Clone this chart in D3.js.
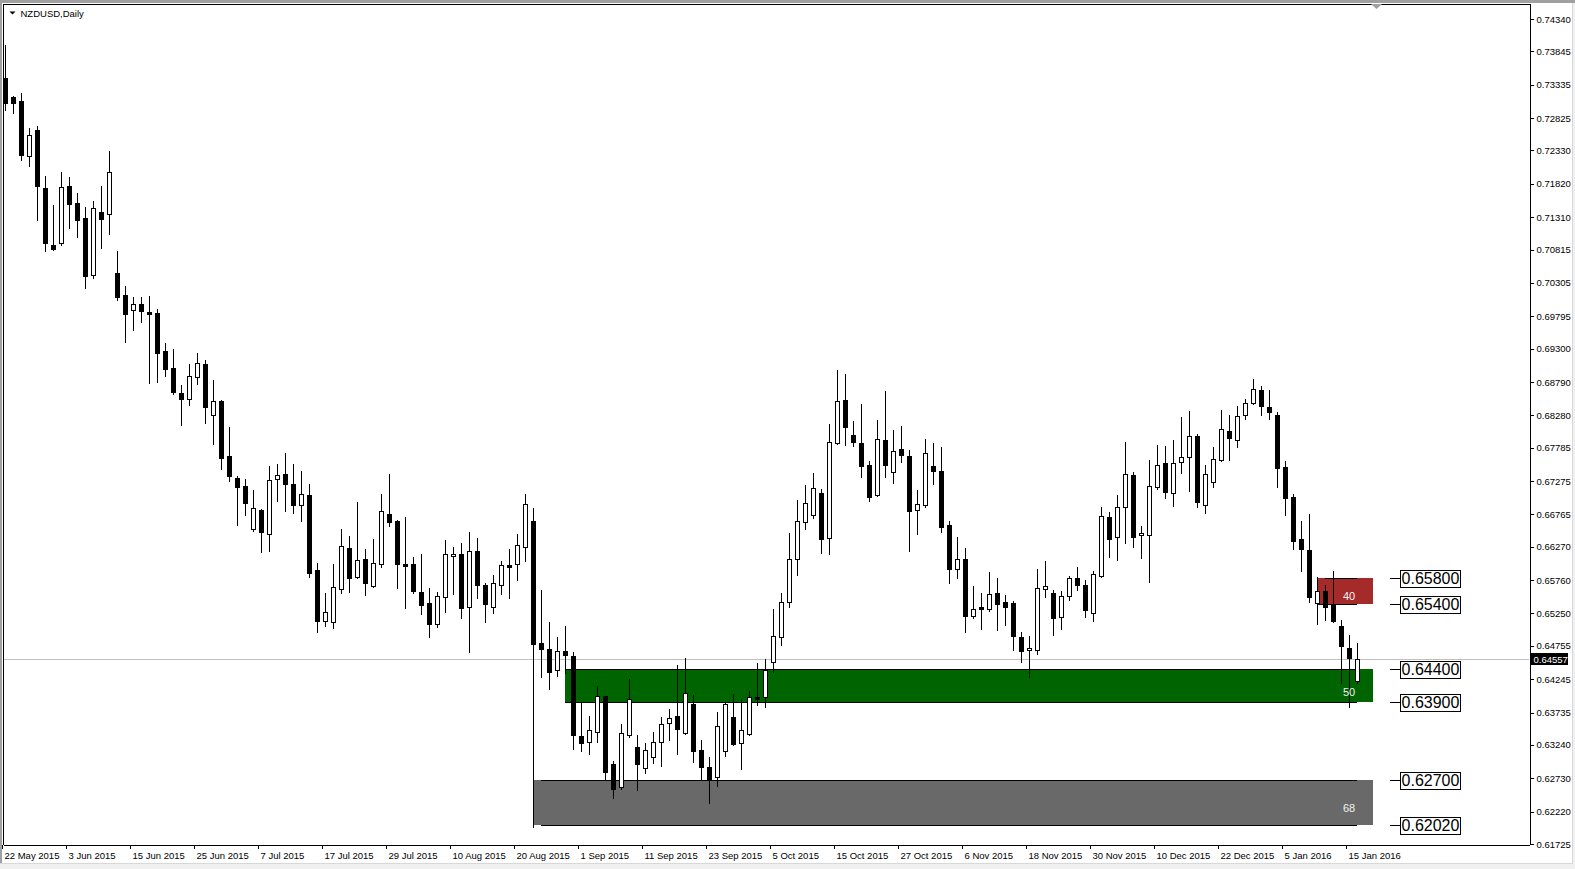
<!DOCTYPE html>
<html><head><meta charset="utf-8">
<script src="https://cdn.jsdelivr.net/npm/d3@7"></script>
<style>
body{margin:0;background:#fff;overflow:hidden}
svg{display:block}
text{font-family:"Liberation Sans",Arial,sans-serif}
</style>
</head><body><svg id="c" width="1575" height="869"></svg>
<script>
const opens = [0.73438,0.73152,0.73086,0.72250,0.72643,0.71756,0.70880,0.70910,0.71786,0.71526,
0.71297,0.70430,0.71384,0.71354,0.70456,0.70120,0.69886,0.69982,0.69860,0.69844,
0.69263,0.69003,0.68621,0.68525,0.68870,0.69065,0.68289,0.68499,0.67658,0.67321,
0.67199,0.66537,0.66832,0.66461,0.67302,0.67383,0.67230,0.66904,0.67062,0.65915,
0.65130,0.65124,0.65620,0.66251,0.65803,0.66083,0.65675,0.66011,0.66771,0.66664,
0.66002,0.66000,0.65578,0.65410,0.65094,0.65506,0.66124,0.66155,0.65344,0.66205,
0.65685,0.65344,0.65681,0.65987,0.66002,0.66274,0.66664,0.64794,0.64702,0.64381,
0.64676,0.64600,0.63372,0.63280,0.63442,0.63983,0.62944,0.62592,0.63396,0.63204,
0.62883,0.63051,0.63280,0.63571,0.63678,0.63427,0.63861,0.63158,0.62898,0.62745,
0.63142,0.63662,0.63265,0.63412,0.63968,0.63968,0.64513,0.64886,0.65421,0.66087,
0.66653,0.66760,0.67088,0.66409,0.67861,0.68510,0.67974,0.67852,0.67516,0.67057,
0.67898,0.67418,0.67760,0.67653,0.66828,0.66913,0.67500,0.67424,0.66598,0.65935,
0.66078,0.65216,0.65344,0.65314,0.65558,0.65421,0.65406,0.64890,0.64687,0.64684,
0.65629,0.65558,0.65191,0.65512,0.65788,0.65681,0.65262,0.65828,0.66720,0.66424,
0.66873,0.67363,0.66445,0.66445,0.67188,0.67546,0.67088,0.67562,0.67638,0.67964,
0.66904,0.67256,0.67592,0.68040,0.67898,0.68280,0.68464,0.68667,0.68407,0.68285,
0.67490,0.67031,0.66389,0.66220,0.65406,0.65594,0.65380,0.65058,0.64722,0.64213];
const highs = [0.73942,0.73167,0.73213,0.72673,0.72704,0.71939,0.71496,0.72000,0.71924,0.71675,
0.71470,0.71552,0.71786,0.72322,0.70797,0.70257,0.70085,0.70085,0.70104,0.69906,
0.69386,0.69294,0.68744,0.69065,0.69233,0.69126,0.68820,0.68514,0.68101,0.67352,
0.67306,0.67138,0.66840,0.67505,0.67536,0.67699,0.67536,0.67429,0.67230,0.66017,
0.65563,0.66006,0.66542,0.66435,0.66954,0.66240,0.66389,0.67077,0.67383,0.66679,
0.66720,0.66118,0.66159,0.65635,0.65578,0.66373,0.66262,0.66323,0.66496,0.66399,
0.65720,0.65838,0.66048,0.66236,0.66465,0.67074,0.66858,0.65609,0.65120,0.64890,
0.65058,0.64656,0.63876,0.63682,0.64141,0.63990,0.62994,0.63555,0.64243,0.63387,
0.63265,0.63433,0.63672,0.63789,0.64462,0.64569,0.64003,0.63315,0.63055,0.63739,
0.63901,0.64019,0.63938,0.64060,0.64493,0.64549,0.65318,0.65558,0.66476,0.66985,
0.67210,0.67393,0.67158,0.68147,0.68973,0.68912,0.68188,0.68453,0.67577,0.68208,
0.68652,0.68051,0.68117,0.67750,0.67138,0.67913,0.67852,0.67791,0.66659,0.66419,
0.66246,0.65670,0.65558,0.65884,0.65788,0.65528,0.65441,0.64967,0.64906,0.65925,
0.66052,0.65609,0.65594,0.65828,0.65961,0.65762,0.65899,0.66883,0.66802,0.67057,
0.67872,0.67413,0.66588,0.67597,0.67826,0.67811,0.67903,0.68254,0.68346,0.67994,
0.67520,0.67791,0.68361,0.68285,0.68422,0.68529,0.68835,0.68728,0.68667,0.68335,
0.67581,0.67077,0.66664,0.66771,0.65808,0.65685,0.65899,0.65150,0.64921,0.64798];
const lows = [0.72949,0.72907,0.72184,0.72097,0.71267,0.70797,0.70808,0.70884,0.71149,0.71011,
0.70231,0.70384,0.70843,0.71057,0.70043,0.69406,0.69585,0.69711,0.68779,0.68794,
0.68886,0.68611,0.68136,0.68442,0.68763,0.68167,0.67846,0.67464,0.67280,0.66607,
0.66760,0.66516,0.66195,0.66210,0.66974,0.66821,0.66791,0.66669,0.65812,0.64971,
0.65063,0.65032,0.65568,0.65583,0.65792,0.65537,0.65659,0.65965,0.66588,0.65644,
0.65338,0.65568,0.65246,0.64895,0.65048,0.65272,0.65548,0.65185,0.64665,0.65491,
0.65124,0.65262,0.65548,0.65491,0.65766,0.66052,0.61985,0.64283,0.64090,0.64298,
0.64344,0.63182,0.63152,0.63106,0.63289,0.62704,0.62433,0.62571,0.63366,0.62555,
0.62815,0.62968,0.62922,0.63320,0.63101,0.63412,0.62983,0.62704,0.62356,0.62616,
0.63075,0.63239,0.62876,0.63392,0.63850,0.63824,0.64360,0.64768,0.65354,0.65838,
0.66542,0.66710,0.66179,0.66159,0.67841,0.67826,0.67811,0.67341,0.66974,0.67040,
0.67341,0.67250,0.67571,0.66210,0.66470,0.66883,0.67234,0.66500,0.65720,0.65797,
0.64971,0.65176,0.65008,0.65292,0.64993,0.65078,0.64687,0.64513,0.64274,0.64635,
0.65506,0.64921,0.65017,0.65456,0.65609,0.65201,0.65139,0.65812,0.66118,0.66068,
0.66332,0.66262,0.66103,0.65736,0.67158,0.67020,0.66898,0.67393,0.67127,0.66873,
0.66791,0.67188,0.67580,0.67597,0.67800,0.68228,0.68453,0.68285,0.68228,0.67188,
0.66760,0.66236,0.65895,0.65425,0.65084,0.65146,0.65124,0.64182,0.63815,0.64192];
const closes = [0.73056,0.73060,0.72260,0.72562,0.71791,0.70919,0.70828,0.71771,0.71516,0.71271,
0.70415,0.71445,0.71286,0.71996,0.70094,0.69825,0.69978,0.69880,0.69834,0.69237,
0.68993,0.68641,0.68534,0.68877,0.69075,0.68412,0.68494,0.67632,0.67357,0.67188,
0.66944,0.66858,0.66500,0.67286,0.67363,0.67225,0.66913,0.67072,0.65873,0.65139,
0.65268,0.65655,0.66277,0.65797,0.66068,0.65720,0.66017,0.66812,0.66653,0.66011,
0.65980,0.65598,0.65384,0.65094,0.65517,0.66155,0.66155,0.65338,0.66205,0.65690,
0.65399,0.65711,0.65987,0.65965,0.66292,0.66919,0.64776,0.64711,0.64360,0.64672,
0.64620,0.63396,0.63274,0.63464,0.63983,0.62831,0.62571,0.63418,0.63938,0.62953,
0.63162,0.63280,0.63555,0.63647,0.63479,0.64029,0.63152,0.62907,0.62704,0.63525,
0.63861,0.63259,0.63464,0.63977,0.63947,0.64390,0.64901,0.65421,0.66078,0.66659,
0.66935,0.67164,0.66393,0.67867,0.68494,0.68106,0.67877,0.67510,0.67035,0.67913,
0.67525,0.67730,0.67669,0.66821,0.66919,0.67699,0.67424,0.66577,0.65935,0.66078,
0.65216,0.65314,0.65323,0.65543,0.65399,0.65354,0.64910,0.64681,0.64717,0.65635,
0.65665,0.65185,0.65512,0.65788,0.65681,0.65308,0.65849,0.66740,0.66393,0.66873,
0.67378,0.66424,0.66476,0.67195,0.67516,0.67112,0.67546,0.67638,0.67959,0.66959,
0.67378,0.67607,0.68066,0.67938,0.68265,0.68464,0.68678,0.68427,0.68335,0.67479,
0.67020,0.66363,0.66240,0.65506,0.65594,0.65354,0.65139,0.64757,0.64574,0.64557];

const dateLabels = ["22 May 2015","3 Jun 2015","15 Jun 2015","25 Jun 2015","7 Jul 2015","17 Jul 2015",
"29 Jul 2015","10 Aug 2015","20 Aug 2015","1 Sep 2015","11 Sep 2015","23 Sep 2015","5 Oct 2015",
"15 Oct 2015","27 Oct 2015","6 Nov 2015","18 Nov 2015","30 Nov 2015","10 Dec 2015","22 Dec 2015",
"5 Jan 2016","15 Jan 2016"];
const dateLabelStep = 8;
const priceTicks = [0.74340,0.73845,0.73335,0.72825,0.72330,0.71820,0.71310,0.70815,0.70305,0.69795,
0.69300,0.68790,0.68280,0.67785,0.67275,0.66765,0.66270,0.65760,0.65250,0.64755,0.64245,0.63735,
0.63240,0.62730,0.62220,0.61725];
const lastPrice = 0.64557;
const symbolTitle = "NZDUSD,Daily";

// zones (rectangles)
const zoneTops = [0.65800, 0.64400, 0.62700];
const zoneBottoms = [0.65400, 0.63900, 0.62020];
const zoneStartBar = [164, 70, 66];
const zoneEndBar = [171, 171, 171];
const zoneColors = ["#a52a2a", "#006400", "#696969"];
const zoneTexts = ["40", "50", "68"];
const zoneTextPrices = [0.65456, 0.63995, 0.62210];
const zoneTextBar = 168;
// horizontal level lines
const levelPrices = [0.65800, 0.65400, 0.64400, 0.63900, 0.62700, 0.62020];
const levelStartBar = [165, 164, 70, 70, 67, 67];
const levelEndBar = 169;
const levelLabels = ["0.65800","0.65400","0.64400","0.63900","0.62700","0.62020"];

const W = 1575, H = 869;
const plotL = 3.5, plotT = 3.5, plotR = 1529.5, plotB = 844.5;
const svg = d3.select("#c");

const x = d3.scaleLinear().domain([0, 169]).range([5, 1357]);
const y = d3.scaleLinear().domain([0.61725, 0.74340]).range([844, 19]);

// window frame
svg.append("rect").attr("x",0).attr("y",0).attr("width",W).attr("height",H).attr("fill","#fff");
svg.append("rect").attr("x",0).attr("y",0).attr("width",W).attr("height",3).attr("fill","#a0a0a0");
svg.append("rect").attr("x",0).attr("y",0).attr("width",2).attr("height",H).attr("fill","#a0a0a0");
svg.append("rect").attr("x",0).attr("y",863).attr("width",W).attr("height",6).attr("fill","#f0f0f0");
svg.append("line").attr("x1",0).attr("x2",W).attr("y1",863.5).attr("y2",863.5).attr("stroke","#d8d8d8");
svg.append("rect").attr("x",1572).attr("y",3).attr("width",3).attr("height",H).attr("fill","#f0f0f0");
svg.append("line").attr("x1",1572.5).attr("x2",1572.5).attr("y1",3).attr("y2",864).attr("stroke","#d8d8d8");

const defs = svg.append("defs");
defs.append("clipPath").attr("id","plotclip").append("rect")
  .attr("x",plotL+0.5).attr("y",plotT+0.5).attr("width",plotR-plotL-1).attr("height",plotB-plotT-1);

const plot = svg.append("g").attr("clip-path","url(#plotclip)").attr("shape-rendering","crispEdges");

// current price line
plot.append("line").attr("x1",plotL).attr("x2",plotR)
  .attr("y1",Math.round(y(lastPrice))+0.5).attr("y2",Math.round(y(lastPrice))+0.5)
  .attr("stroke","#c0c0c0");

// zones
zoneTops.forEach((t,i)=>{
  const y0 = Math.round(y(t)), y1 = Math.round(y(zoneBottoms[i]));
  plot.append("rect").attr("x",Math.round(x(zoneStartBar[i]))).attr("y",y0)
    .attr("width",Math.round(x(zoneEndBar[i]))-Math.round(x(zoneStartBar[i]))).attr("height",y1-y0)
    .attr("fill",zoneColors[i]);
});
// level lines
levelPrices.forEach((p,i)=>{
  const yy = Math.round(y(p))+0.5;
  plot.append("line").attr("x1",Math.round(x(levelStartBar[i]))).attr("x2",Math.round(x(levelEndBar)))
    .attr("y1",yy).attr("y2",yy).attr("stroke","#000");
});

// candles
const candles = d3.range(opens.length).map(i=>({i,o:opens[i],h:highs[i],l:lows[i],c:closes[i]}));
const cg = plot.selectAll("g.candle").data(candles).join("g").attr("class","candle");
cg.append("line")
  .attr("x1",d=>Math.round(x(d.i))+0.5).attr("x2",d=>Math.round(x(d.i))+0.5)
  .attr("y1",d=>Math.round(y(d.h))).attr("y2",d=>Math.round(y(d.l))+1)
  .attr("stroke","#000");
cg.append("rect")
  .attr("x",d=>Math.round(x(d.i))-2+0.5)
  .attr("y",d=>Math.round(y(Math.max(d.o,d.c)))+0.5)
  .attr("width",4)
  .attr("height",d=>Math.max(1,Math.round(y(Math.min(d.o,d.c)))-Math.round(y(Math.max(d.o,d.c)))))
  .attr("fill",d=>d.c>=d.o?"#fff":"#000")
  .attr("stroke","#000");

// zone texts
zoneTexts.forEach((t,i)=>{
  plot.append("text").attr("x",x(zoneTextBar)).attr("y",y(zoneTextPrices[i]))
    .attr("text-anchor","middle").attr("font-size","11px").attr("fill","#f2f2f2").text(t);
});

// level labels on right
levelPrices.forEach((p,i)=>{
  const yy = Math.round(y(p))+0.5;
  plot.append("line").attr("x1",1390).attr("x2",1400).attr("y1",yy).attr("y2",yy).attr("stroke","#000");
  plot.append("rect").attr("x",1400.5).attr("y",Math.round(y(p))-8+0.5).attr("width",60).attr("height",17)
    .attr("fill","#fff").attr("stroke","#000");
  plot.append("text").attr("x",1430.5).attr("y",Math.round(y(p))+6)
    .attr("text-anchor","middle").attr("font-size","16px").attr("fill","#000").text(levelLabels[i]);
});

// frame lines
svg.append("g").attr("shape-rendering","crispEdges").call(g=>{
  g.append("line").attr("x1",plotL).attr("x2",plotR).attr("y1",plotT+0.5).attr("y2",plotT+0.5).attr("stroke","#000");
  g.append("line").attr("x1",plotL).attr("x2",plotL).attr("y1",plotT).attr("y2",plotB).attr("stroke","#000");
});

// right price axis
const yAxis = d3.axisRight(y).tickValues(priceTicks).tickFormat(d3.format(".5f")).tickSize(4).tickPadding(3);
const ya = svg.append("g").attr("transform",`translate(${plotR},0)`).attr("shape-rendering","crispEdges").call(yAxis);
ya.select(".domain").attr("d",`M0.5,${plotT}V${plotB+0.5}`).attr("stroke","#000");
ya.selectAll(".tick line").attr("stroke","#000");
ya.selectAll(".tick text").attr("font-size","9.5px").attr("font-family","'Liberation Sans',Arial,sans-serif").attr("fill","#000");

// current price tag
const lpY = Math.round(y(lastPrice));
svg.append("rect").attr("x",plotR+0.5).attr("y",lpY-6).attr("width",38).attr("height",12).attr("fill","#000");
svg.append("text").attr("x",plotR+4).attr("y",lpY+3.5).attr("font-size","9.5px").attr("fill","#fff").text(d3.format(".5f")(lastPrice));

// bottom time axis
const tickIdx = d3.range(0, opens.length, dateLabelStep);
const xAxis = d3.axisBottom(x).tickValues(tickIdx).tickFormat(i=>dateLabels[i/dateLabelStep]).tickSize(4).tickPadding(4);
const xa = svg.append("g").attr("transform",`translate(0,${plotB})`).attr("shape-rendering","crispEdges").call(xAxis);
xa.select(".domain").attr("d",`M${plotL},0.5H${plotR+0.5}`).attr("stroke","#000");
xa.selectAll(".tick line").attr("x1",-3.5).attr("x2",-3.5).attr("stroke","#000");
xa.selectAll(".tick text").attr("text-anchor","start").attr("x",-1).attr("dy","0.71em")
  .attr("font-size","9.5px").attr("font-family","'Liberation Sans',Arial,sans-serif").attr("fill","#000");

// title
svg.append("path").attr("d","M9.5,11.5 L15.5,11.5 L12.5,14.5 Z").attr("fill","#000");
svg.append("text").attr("x",20.5).attr("y",16.5).attr("font-size","9.5px").attr("fill","#000").text(symbolTitle);
// chart shift marker
svg.append("path").attr("d","M1371,4 L1382,4 L1376.5,9 Z").attr("fill","#a0a0a0");
</script>
</body></html>
